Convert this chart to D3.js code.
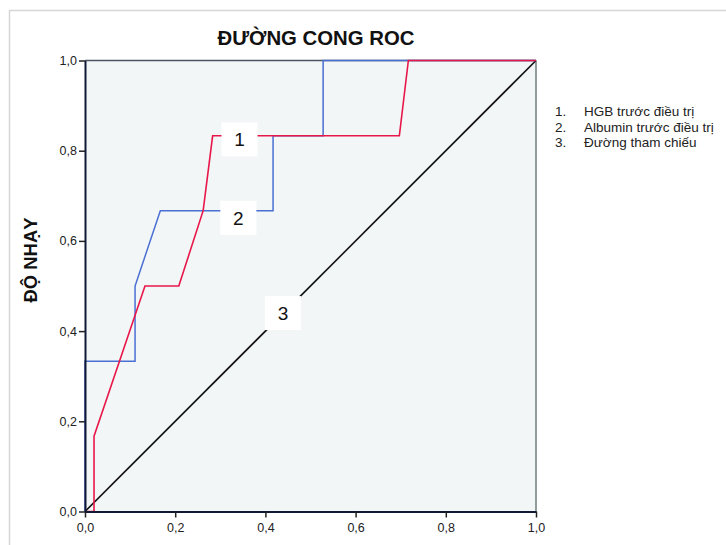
<!DOCTYPE html>
<html>
<head>
<meta charset="utf-8">
<script src="https://cdn.jsdelivr.net/npm/d3@7"></script>
<style>
  body { margin: 0; background: #fff; }
  svg { display: block; font-family: "Liberation Sans", Arial, sans-serif; }
</style>
</head>
<body>
<svg id="chart" width="726" height="545"></svg>
<script>
// ---- data ----
const title = "ĐƯỜNG CONG ROC";
const yTitle = "ĐỘ NHẠY";
const tickValues = [0, 0.2, 0.4, 0.6, 0.8, 1.0];

// HGB trước điều trị (1)
const hgbFPR  = [0, 0.02, 0.02, 0.133, 0.208, 0.262, 0.283, 0.697, 0.717, 1];
const hgbTPR  = [0, 0,    0.167, 0.5,  0.5,   0.667, 0.833, 0.833, 1,     1];
// Albumin trước điều trị (2)
const albFPR  = [0, 0,     0.111, 0.111, 0.167, 0.417, 0.417, 0.528, 0.528, 1];
const albTPR  = [0, 0.333, 0.333, 0.5,   0.667, 0.667, 0.833, 0.833, 1,     1];
// Đường tham chiếu (3)
const refFPR = [0, 1];
const refTPR = [0, 1];

const legendItems = ["HGB trước điều trị", "Albumin trước điều trị", "Đường tham chiếu"];
const curveLabels = ["1", "2", "3"];
const labelX = [0.3426, 0.340, 0.439];
const labelY = [0.825, 0.651, 0.44];

// ---- layout ----
const svg = d3.select("#chart");
const x = d3.scaleLinear().domain([0, 1]).range([85, 536]);
const y = d3.scaleLinear().domain([0, 1]).range([511.5, 60.5]);
const fmt = d => d3.format(".1f")(d).replace(".", ",");

// outer frame
svg.append("rect").attr("x", 9.5).attr("y", 10.5).attr("width", 800).attr("height", 600)
  .attr("fill", "none").attr("stroke", "#d6d6d6").attr("stroke-width", 1.5);

// plot background
svg.append("rect").attr("x", x(0)).attr("y", y(1)).attr("width", x(1) - x(0)).attr("height", y(0) - y(1))
  .attr("fill", "#f3f6f7");

// top & right borders
svg.append("line").attr("x1", x(0)).attr("x2", x(1)).attr("y1", y(1)).attr("y2", y(1))
  .attr("stroke", "#4a5560").attr("stroke-width", 1.5);
svg.append("line").attr("x1", x(1)).attr("x2", x(1)).attr("y1", y(1)).attr("y2", y(0))
  .attr("stroke", "#6f7c7e").attr("stroke-width", 1.5);

const line = d3.line().x(d => x(d[0])).y(d => y(d[1]));
const zip = (a, b) => a.map((v, i) => [v, b[i]]);

// reference diagonal
svg.append("path").datum(zip(refFPR, refTPR)).attr("d", line)
  .attr("fill", "none").attr("stroke", "#111").attr("stroke-width", 1.6);
// albumin (blue)
svg.append("path").datum(zip(albFPR, albTPR)).attr("d", line)
  .attr("fill", "none").attr("stroke", "#4a6fd3").attr("stroke-width", 1.5);
// HGB (red)
svg.append("path").datum(zip(hgbFPR, hgbTPR)).attr("d", line)
  .attr("fill", "none").attr("stroke", "#e8174a").attr("stroke-width", 1.6);

// axes
const xAxis = svg.append("g").attr("transform", `translate(0,${y(0)})`)
  .call(d3.axisBottom(x).tickValues(tickValues).tickFormat(fmt).tickSize(6).tickSizeOuter(0));
const yAxis = svg.append("g").attr("transform", `translate(${x(0)},0)`)
  .call(d3.axisLeft(y).tickValues(tickValues).tickFormat(fmt).tickSize(6).tickSizeOuter(0));
[xAxis, yAxis].forEach(g => {
  g.select(".domain").attr("stroke", "#111833").attr("stroke-width", 2);
  g.selectAll(".tick line").attr("stroke", "#222").attr("stroke-width", 1.5);
  g.selectAll(".tick text").attr("font-size", 12.5).attr("fill", "#222")
    .attr("font-family", "'Liberation Sans', Arial, sans-serif");
});
xAxis.selectAll(".tick text").attr("dy", "0.95em");
yAxis.selectAll(".tick text").attr("x", -8);

// curve labels
curveLabels.forEach((t, i) => {
  const cx = x(labelX[i]), cy = y(labelY[i]);
  svg.append("rect").attr("x", cx - 18).attr("y", cy - 17).attr("width", 36).attr("height", 34)
    .attr("fill", "#fff");
  svg.append("text").attr("x", cx).attr("y", cy).attr("dy", "0.36em").attr("text-anchor", "middle")
    .attr("font-size", 19).attr("fill", "#111").text(t);
});

// title
svg.append("text").attr("x", 316).attr("y", 45).attr("text-anchor", "middle")
  .attr("font-size", 21).attr("font-weight", "bold").attr("fill", "#111")
  .attr("textLength", 197).attr("lengthAdjust", "spacingAndGlyphs").text(title);

// y title
svg.append("text").attr("transform", "translate(37,260) rotate(-90)").attr("text-anchor", "middle")
  .attr("font-size", 19).attr("font-weight", "bold").attr("fill", "#111")
  .attr("textLength", 85).attr("lengthAdjust", "spacingAndGlyphs").text(yTitle);

// legend
const lg = svg.append("g").attr("font-size", 13.5).attr("fill", "#222");
legendItems.forEach((t, i) => {
  lg.append("text").attr("x", 555).attr("y", 116 + i * 15.5).text((i + 1) + ".");
  lg.append("text").attr("x", 584).attr("y", 116 + i * 15.5).text(t);
});
</script>
</body>
</html>
